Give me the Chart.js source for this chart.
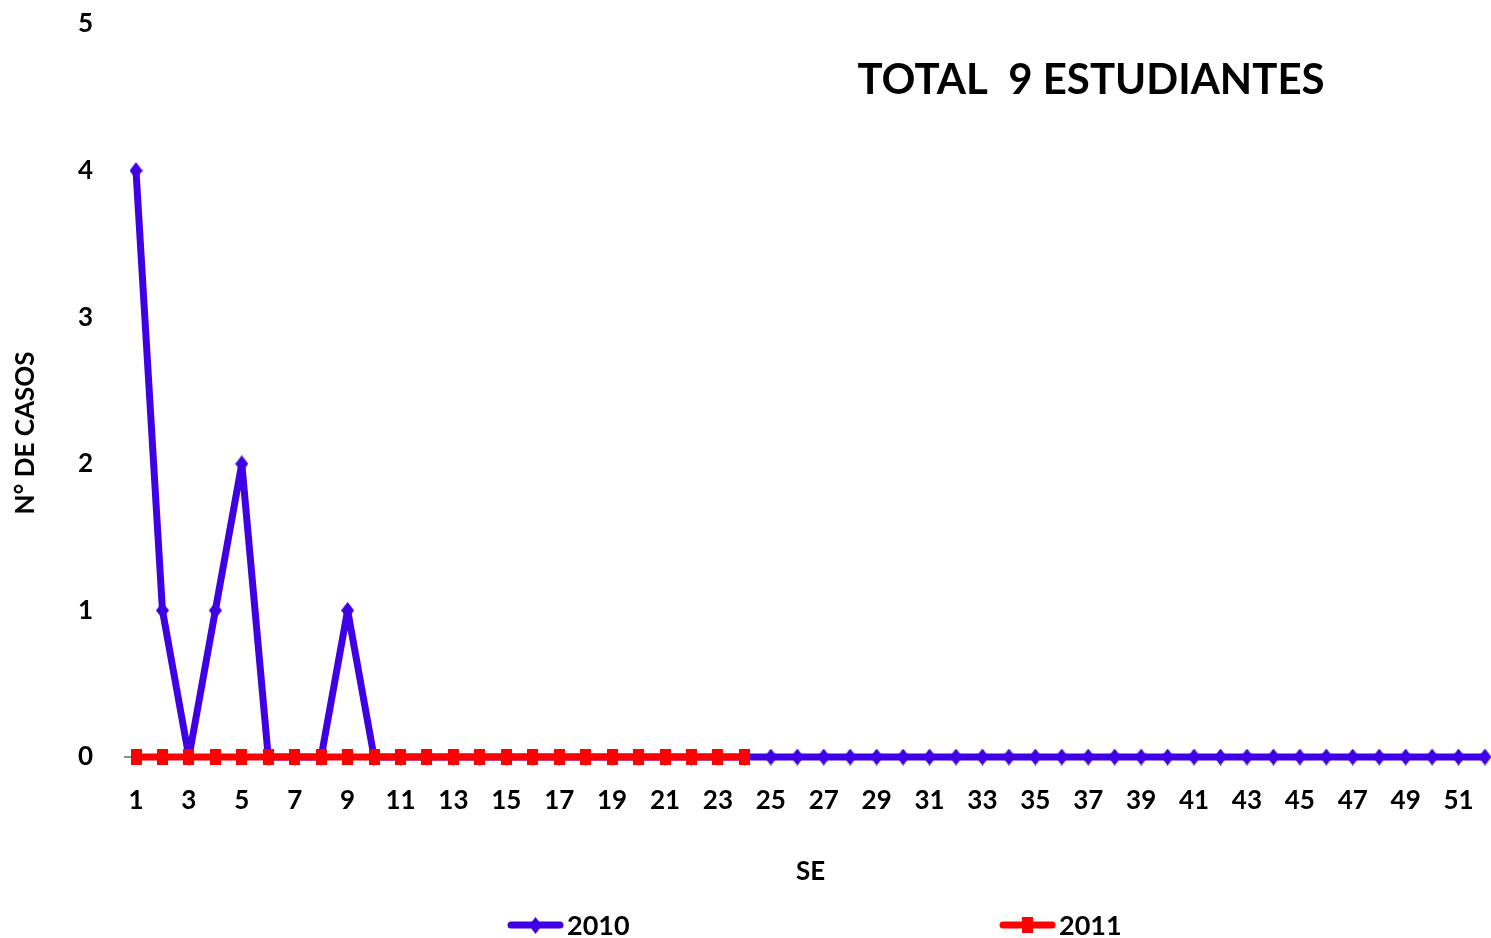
<!DOCTYPE html>
<html><head><meta charset="utf-8">
<script src="https://cdn.jsdelivr.net/npm/chart.js@4"></script>
<style>html,body{margin:0;padding:0;background:#fff;overflow:hidden}</style>
</head><body>
<canvas id="c" width="1491" height="938"></canvas>
<script>
const weeks = ['1','2','3','4','5','6','7','8','9','10','11','12','13','14','15','16','17','18','19','20','21','22','23','24','25','26','27','28','29','30','31','32','33','34','35','36','37','38','39','40','41','42','43','44','45','46','47','48','49','50','51','52'];
const cases2010 = [4,1,0,1,2,0,0,0,1,0,0,0,0,0,0,0,0,0,0,0,0,0,0,0,0,0,0,0,0,0,0,0,0,0,0,0,0,0,0,0,0,0,0,0,0,0,0,0,0,0,0,0];
const cases2011 = [0,0,0,0,0,0,0,0,0,0,0,0,0,0,0,0,0,0,0,0,0,0,0,0,null,null,null,null,null,null,null,null,null,null,null,null,null,null,null,null,null,null,null,null,null,null,null,null,null,null,null,null];
const yTicks = [0,1,2,3,4,5];
const seriesNames = ['2010','2011'];
const chartTitle = 'TOTAL  9 ESTUDIANTES';
const xTitle = 'SE';
const yTitle = 'N° DE CASOS';

const BLUE = '#3f00e6';
const RED = '#ff0000';
const FONT = 'Lato';

function markerCanvas(shape, color, w, h) {
  const c = document.createElement('canvas');
  c.width = w; c.height = h;
  const g = c.getContext('2d');
  g.fillStyle = color;
  g.beginPath();
  if (shape === 'diamond') {
    g.moveTo(w / 2, 0); g.lineTo(w, h / 2); g.lineTo(w / 2, h); g.lineTo(0, h / 2);
    g.closePath();
  } else {
    g.rect(0, 0, w, h);
  }
  g.fill();
  return c;
}
const diamondImg = markerCanvas('diamond', BLUE, 13, 17);
const squareImg = markerCanvas('square', RED, 11, 16);

const extraText = {
  id: 'extraText',
  beforeDatasetsDraw(chart) {
    const ctx = chart.ctx;
    const y0 = chart.scales.y.getPixelForValue(0);
    const left = chart.chartArea.left;
    ctx.save();
    ctx.strokeStyle = '#8c8c8c';
    ctx.lineWidth = 2;
    ctx.beginPath();
    ctx.moveTo(left - 12, y0);
    ctx.lineTo(left - 2, y0);
    ctx.stroke();
    ctx.restore();
  },
  afterDraw(chart) {
    const ctx = chart.ctx;
    ctx.save();
    ctx.fillStyle = '#000';
    ctx.font = 'bold 42px ' + FONT;
    ctx.textAlign = 'center';
    ctx.textBaseline = 'alphabetic';
    ctx.fillText(chartTitle, 1091, 94);
    ctx.save();
    ctx.translate(26, 433);
    ctx.rotate(-Math.PI / 2);
    ctx.font = 'bold 26px ' + FONT;
    ctx.textBaseline = 'middle';
    ctx.fillText(yTitle, 0, 0);
    ctx.restore();
    const items = [
      {name: seriesNames[0], color: BLUE, x: 508, img: diamondImg},
      {name: seriesNames[1], color: RED, x: 1000, img: squareImg}
    ];
    const ly = 925;
    items.forEach(it => {
      ctx.strokeStyle = it.color;
      ctx.lineWidth = 7;
      ctx.lineCap = 'round';
      ctx.beginPath();
      ctx.moveTo(it.x + 3, ly);
      ctx.lineTo(it.x + 52, ly);
      ctx.stroke();
      const cx = it.x + 27;
      ctx.drawImage(it.img, Math.round(cx - it.img.width / 2), Math.round(ly - it.img.height / 2));
      ctx.fillStyle = '#000';
      ctx.font = 'bold 27px ' + FONT;
      ctx.textAlign = 'left';
      ctx.textBaseline = 'middle';
      ctx.fillText(it.name, it.x + 59, ly + 1);
    });
    ctx.restore();
  }
};

const tickFont = {family: FONT, size: 26, weight: 'bold'};

new Chart(document.getElementById('c'), {
  type: 'line',
  data: {
    labels: weeks,
    datasets: [
      {
        label: seriesNames[0], data: cases2010,
        borderColor: BLUE, backgroundColor: BLUE, borderWidth: 7, borderJoinStyle: 'round',
        pointStyle: diamondImg, pointRadius: 7, tension: 0, order: 2, clip: false
      },
      {
        label: seriesNames[1], data: cases2011,
        borderColor: RED, backgroundColor: RED, borderWidth: 7, borderJoinStyle: 'round',
        pointStyle: squareImg, pointRadius: 8, tension: 0, order: 1, clip: false,
        spanGaps: false
      }
    ]
  },
  options: {
    responsive: false,
    animation: false,
    devicePixelRatio: 1,
    layout: {autoPadding: false, padding: {top: 24, right: 6, bottom: 40, left: 0}},
    plugins: {legend: {display: false}, tooltip: {enabled: false}, title: {display: false}},
    scales: {
      x: {
        type: 'category', offset: false,
        grid: {
          display: true, drawOnChartArea: false, drawTicks: true, tickLength: 28,
          color: 'rgba(0,0,0,0)', tickColor: 'rgba(0,0,0,0)'
        },
        border: {display: false},
        ticks: {
          autoSkip: false, maxRotation: 0, minRotation: 0, padding: 0,
          font: tickFont, color: '#000',
          callback: (v, i) => (i % 2 === 0 ? weeks[i] : '')
        },
        title: {display: true, text: xTitle, font: tickFont, color: '#000', padding: {top: 0, bottom: 11}},
        afterFit: s => { s.height = 141; s.paddingRight = 0; s.paddingLeft = 0; }
      },
      y: {
        min: 0, max: 5,
        afterBuildTicks: s => { s.ticks = yTicks.map(v => ({value: v})); },
        ticks: {padding: 0, font: tickFont, color: '#000'},
        grid: {
          drawOnChartArea: false, drawTicks: true, tickLength: 43,
          color: 'rgba(0,0,0,0)', tickColor: 'rgba(0,0,0,0)'
        },
        border: {display: false},
        afterFit: s => { s.width = 136; }
      }
    }
  },
  plugins: [extraText]
});
</script>
</body></html>
